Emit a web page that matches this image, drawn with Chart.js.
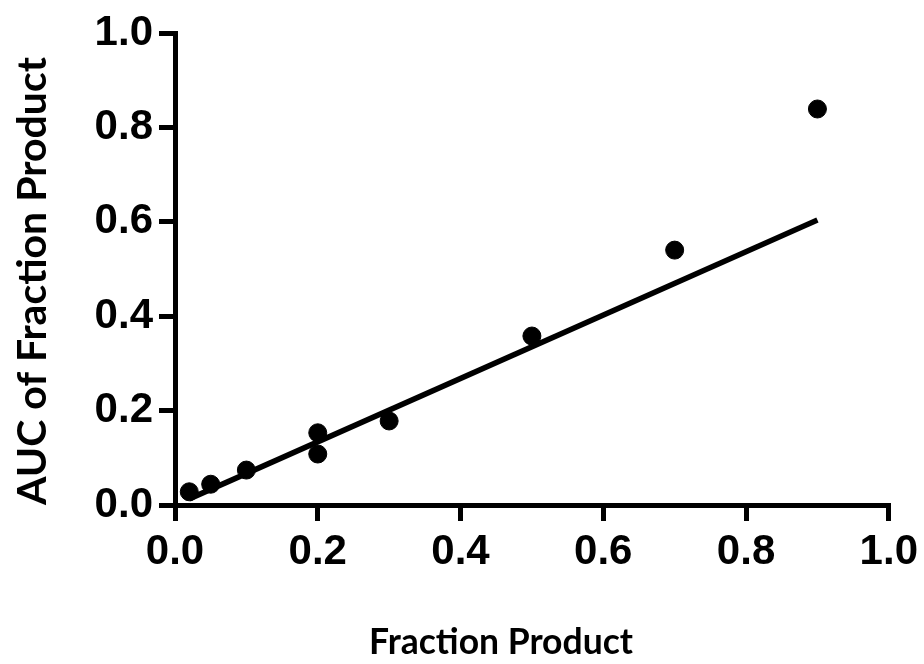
<!DOCTYPE html>
<html>
<head>
<meta charset="utf-8">
<style>
  html, body { margin: 0; padding: 0; background: #fff; }
  #wrap { width: 924px; height: 664px; position: relative; }
</style>
<script src="https://cdn.jsdelivr.net/npm/chart.js@4.4.1/dist/chart.umd.min.js"></script>
</head>
<body>
<div id="wrap"><canvas id="c" width="924" height="664"></canvas></div>
<script>
// Measured samples
const fractionProduct = [0.02, 0.05, 0.1, 0.2, 0.2, 0.3, 0.5, 0.7, 0.9];
const aucFraction     = [0.028, 0.044, 0.074, 0.153, 0.108, 0.178, 0.358, 0.540, 0.839];

// Linear fit, drawn between its two end points
const fitX = [0.02, 0.9];
const fitY = [0.013, 0.604];

// Axis ticks
const tickValues = [0, 0.2, 0.4, 0.6, 0.8, 1.0];
const tickLabels = ['0.0', '0.2', '0.4', '0.6', '0.8', '1.0'];

const xTitle = 'Fraction Product';
const yTitle = 'AUC of Fraction Product';

const tickFont = { family: '"Liberation Sans", Arial, sans-serif', size: 42, weight: 'bold' };
const xTitleFont = 'bold 35.5px Lato, "Open Sans", sans-serif';
const yTitleFont = 'bold 41px Lato, "Open Sans", sans-serif';

// Axis titles placed by hand
const axisTitles = {
  id: 'axisTitles',
  afterDraw(chart) {
    const ctx = chart.ctx;
    ctx.save();
    ctx.fillStyle = '#000';
    ctx.textAlign = 'center';
    ctx.textBaseline = 'middle';
    ctx.font = xTitleFont;
    ctx.fillText(xTitle, 501, 643);
    ctx.font = yTitleFont;
    ctx.translate(33, 281);
    ctx.rotate(-Math.PI / 2);
    ctx.fillText(yTitle, 0, 0);
    ctx.restore();
  }
};

const scatterPts = fractionProduct.map((x, i) => ({ x, y: aucFraction[i] }));
const fitPts = fitX.map((x, i) => ({ x, y: fitY[i] }));

function axisOpts(fitFn) {
  return {
    type: 'linear',
    min: 0,
    max: 1,
    afterBuildTicks(scale) {
      scale.ticks = tickValues.map(v => ({ value: v }));
    },
    afterFit: fitFn,
    ticks: {
      color: '#000',
      font: tickFont,
      padding: 6,
      callback(v) {
        const i = tickValues.findIndex(t => Math.abs(t - v) < 1e-9);
        return i >= 0 ? tickLabels[i] : '';
      }
    },
    grid: {
      drawOnChartArea: false,
      drawTicks: true,
      tickLength: 16,
      lineWidth: 5,
      color: '#000'
    },
    border: { display: true, width: 5, color: '#000' }
  };
}

new Chart(document.getElementById('c'), {
  type: 'scatter',
  data: {
    datasets: [
      {
        type: 'line',
        data: fitPts,
        borderColor: '#000',
        borderWidth: 5.5,
        pointRadius: 0,
        fill: false,
        tension: 0
      },
      {
        type: 'scatter',
        data: scatterPts,
        backgroundColor: '#000',
        borderColor: '#000',
        pointRadius: 9,
        pointHoverRadius: 9
      }
    ]
  },
  options: {
    responsive: false,
    animation: false,
    devicePixelRatio: 1,
    layout: { padding: { top: 33, right: 35, left: 0, bottom: 0 } },
    plugins: { legend: { display: false }, tooltip: { enabled: false } },
    scales: {
      x: axisOpts(s => { s.height = 159; }),
      y: axisOpts(s => { s.width = 175; })
    }
  },
  plugins: [axisTitles]
});
</script>
</body>
</html>
